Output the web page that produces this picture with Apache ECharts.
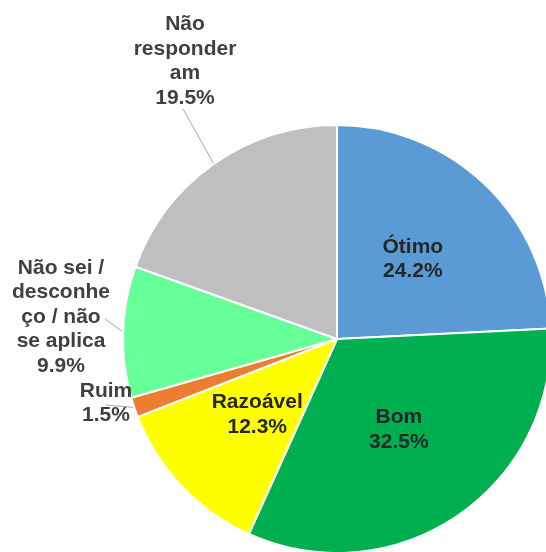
<!DOCTYPE html>
<html><head><meta charset="utf-8">
<script src="https://cdn.jsdelivr.net/npm/echarts@6/dist/echarts.min.js"></script>
<style>html,body{margin:0;padding:0;background:#fff}#c{width:546px;height:552px}</style>
</head><body><div id="c"></div>
<script>
const categories = ['Ótimo', 'Bom', 'Razoável', 'Ruim', 'Não sei / desconheço / não se aplica', 'Não responderam'];
const values = [24.2, 32.5, 12.3, 1.5, 9.9, 19.5];
const wrappedNames = ['Ótimo', 'Bom', 'Razoável', 'Ruim', 'Não sei /\ndesconhe\nço / não\nse aplica', 'Não\nresponder\nam'];
const colors = ['#5B9BD5', '#00B050', '#FFFF00', '#ED7D31', '#66FF99', '#BFBFBF'];
const insideLabel = [true, true, true, false, false, false];
// placement of the outside labels: label centre and leader-line end
const outsidePlacement = {
  3: { x: 106, y: 403, end: [106, 405] },
  4: { x: 61, y: 317, end: [105, 319] },
  5: { x: 185, y: 61, end: [183, 109] }
};

const chart = echarts.init(document.getElementById('c'), null, { renderer: 'canvas' });
const data = categories.map((name, i) => ({
  name: name,
  value: values[i],
  itemStyle: { color: colors[i] },
  label: insideLabel[i]
    ? { position: 'inside', color: '#262626' }
    : { position: 'outside', color: '#404040' },
  labelLine: { show: !insideLabel[i] }
}));

chart.setOption({
  animation: false,
  backgroundColor: '#ffffff',
  series: [{
    type: 'pie',
    center: [337, 339],
    radius: 214,
    startAngle: 90,
    clockwise: true,
    avoidLabelOverlap: false,
    itemStyle: { borderColor: '#ffffff', borderWidth: 2 },
    label: {
      show: true,
      fontFamily: 'Liberation Sans, Arial, sans-serif',
      fontWeight: 'bold',
      fontSize: 21,
      lineHeight: 24.5,
      align: 'center',
      formatter: p => wrappedNames[p.dataIndex] + '\n' + values[p.dataIndex].toFixed(1) + '%'
    },
    labelLine: { show: true, length: 10, length2: 10, lineStyle: { color: '#A6A6A6', width: 1 } },
    labelLayout: function (params) {
      const pl = outsidePlacement[params.dataIndex];
      if (!pl) return {};
      const anchor = params.labelLinePoints ? params.labelLinePoints[0] : pl.end;
      return {
        x: pl.x, y: pl.y, align: 'center', verticalAlign: 'middle',
        labelLinePoints: [anchor, pl.end, pl.end]
      };
    },
    emphasis: { disabled: true },
    data: data
  }]
});
</script></body></html>
